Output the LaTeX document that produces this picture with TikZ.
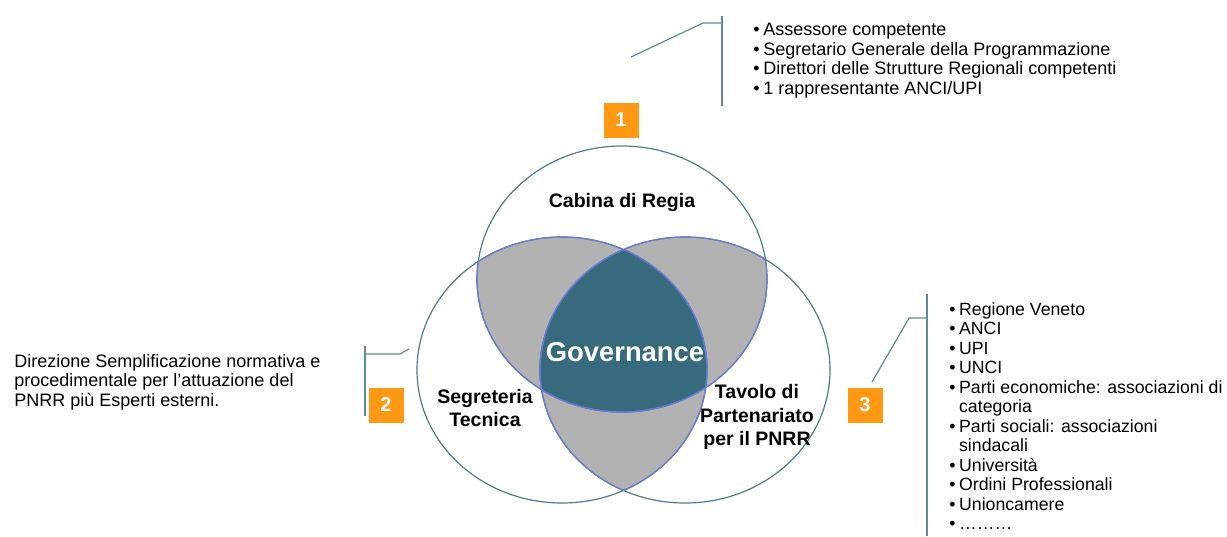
\documentclass[tikz,border=0pt]{standalone}
\usepackage{fontspec}
\setmainfont{Liberation Sans}
\usepackage{tikz}
\usetikzlibrary{positioning}
\definecolor{govteal}{RGB}{54,106,124}
\definecolor{lensgray}{RGB}{178,178,178}
\definecolor{rimblue}{RGB}{106,122,214}
\definecolor{rimteal}{RGB}{78,124,138}
\definecolor{leadercol}{RGB}{94,138,152}
\definecolor{numorange}{RGB}{255,153,20}
\tikzset{numbox/.style = {fill=numorange, text=white, inner sep=0pt, minimum size=17.5pt,
                          font=\fontsize{10}{12}\selectfont\bfseries},
         ringlabel/.style = {align=center, font=\fontsize{9.75}{11.75}\selectfont\bfseries},
         bulletlist/.style = {align=left, inner sep=0pt, font=\fontsize{9}{9.75}\selectfont},
         leader/.style = {draw=leadercol, line width=0.6pt}}
% the three rings
\newcommand{\cabinaring}{(622, 279) ellipse [x radius=72.5pt, y radius=66.5pt]}
\newcommand{\segrring}{(562, 370) ellipse [x radius=72.5pt, y radius=66.5pt]}
\newcommand{\tavoloring}{(685, 370) ellipse [x radius=72.5pt, y radius=66.5pt]}
\newcommand{\blt}{\textbullet\hspace{0.2em}}

\begin{document}
\begin{tikzpicture}[x=0.5pt, y=-0.5pt]
      \useasboundingbox (0, 0) rectangle (1227, 536);

      % pairwise overlaps
      \begin{scope}
        \clip \cabinaring;
        \fill [lensgray] \segrring;
        \fill [lensgray] \tavoloring;
      \end{scope}
      \begin{scope}
        \clip \segrring;
        \fill [lensgray] \tavoloring;
      \end{scope}
      % common part
      \begin{scope}
        \clip \cabinaring;
        \clip \segrring;
        \fill [govteal] \tavoloring;
      \end{scope}

      \draw [rimteal, line width=0.6pt] \cabinaring \segrring \tavoloring;
      \begin{scope}
        \clip \cabinaring;
        \draw [rimblue, line width=0.6pt] \segrring \tavoloring;
      \end{scope}
      \begin{scope}
        \clip \segrring;
        \draw [rimblue, line width=0.6pt] \cabinaring \tavoloring;
      \end{scope}
      \begin{scope}
        \clip \tavoloring;
        \draw [rimblue, line width=0.6pt] \cabinaring \segrring;
      \end{scope}

      \node (cabina) [ringlabel] at (622, 202) {Cabina di Regia};
      \node (segreteria) [ringlabel] at (485, 408) {Segreteria\\Tecnica};
      \node (tavolo) [ringlabel] at (757, 417) {Tavolo di\\Partenariato\\per il PNRR};
      \node (gov) [text=white, font=\fontsize{13.7}{16}\selectfont\bfseries] at (625, 352) {Governance};

      \node (num1) [numbox] at (621, 120) {1};
      \node (num2) [numbox] at (386, 405) {2};
      \node (num3) [numbox] at (865, 405) {3};

      \node (cabinalist) [bulletlist, anchor = north west] at (753, 23)
        {\blt Assessore competente\\
         \blt Segretario Generale della Programmazione\\
         \blt Direttori delle Strutture Regionali competenti\\
         \blt 1 rappresentante ANCI/UPI};
      \node (segrtext) [bulletlist, anchor = north west] at (14, 354)
        {Direzione Semplificazione normativa e\\
         procedimentale per l’attuazione del\\
         PNRR più Esperti esterni.};
      \node (tavololist) [bulletlist, anchor = north west,
                          font=\fontsize{8.85}{9.75}\selectfont] at (949, 302)
        {\blt Regione Veneto\\
         \blt ANCI\\
         \blt UPI\\
         \blt UNCI\\
         \blt Parti economiche: associazioni di\\
         \hphantom{\blt}categoria\\
         \blt Parti sociali: associazioni\\
         \hphantom{\blt}sindacali\\
         \blt Università\\
         \blt Ordini Professionali\\
         \blt Unioncamere\\
         \blt \dots\dots\dots};

      % leader lines
      \coordinate (cabinatip) at (631, 57);
      \coordinate (cabinaknee) at (703, 23);
      \coordinate (cabinatop) at (722, 16);
      \coordinate (cabinabot) at (722, 106);
      \draw [leader] (cabinatip) -- (cabinaknee) -- (cabinaknee -| cabinatop);
      \draw [leader] (cabinatop) -- (cabinabot);

      \coordinate (segrtip) at (409, 349);
      \coordinate (segrknee) at (400, 354);
      \coordinate (segrtop) at (365, 346);
      \coordinate (segrbot) at (365, 416);
      \draw [leader] (segrtip) -- (segrknee) -- (segrknee -| segrtop);
      \draw [leader] (segrtop) -- (segrbot);

      \coordinate (tavolotip) at (872, 382);
      \coordinate (tavoloknee) at (909, 318);
      \coordinate (tavolotop) at (927, 294);
      \coordinate (tavolobot) at (927, 536);
      \draw [leader] (tavolotip) -- (tavoloknee) -- (tavoloknee -| tavolotop);
      \draw [leader] (tavolotop) -- (tavolobot);
\end{tikzpicture}
\end{document}
